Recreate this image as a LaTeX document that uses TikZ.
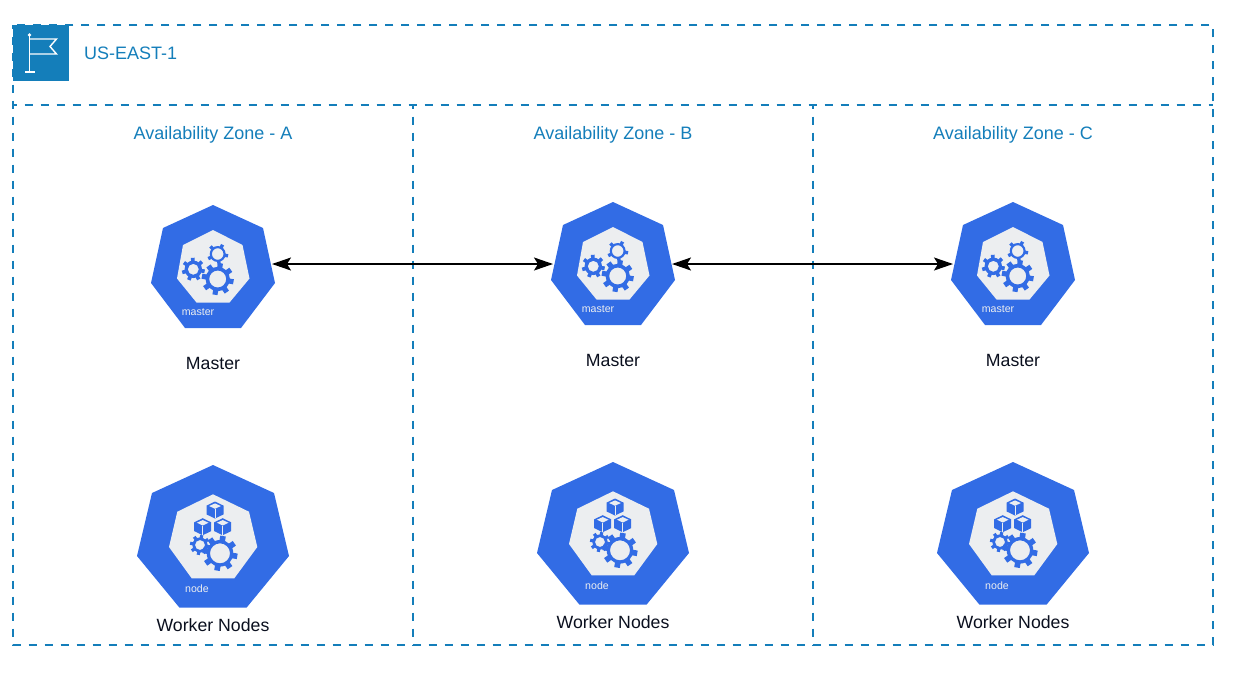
\documentclass[tikz,border=0pt]{standalone}
\usepackage{fontspec}
\setmainfont{Liberation Sans}
\usetikzlibrary{arrows.meta}
\definecolor{awsblue}{HTML}{147EBA}
\definecolor{kubeblue}{HTML}{326CE5}
\definecolor{kubegrey}{HTML}{ECEEF0}
\definecolor{labelink}{HTML}{0A0F1E}
\tikzset{
  zoneline/.style={draw=awsblue, line width=2.2pt, dash pattern=on 8.5pt off 7.5pt, dash phase=4.3pt},
  zonetext/.style={text=awsblue, font=\fontsize{18}{21}\selectfont, inner sep=0pt},
  roletext/.style={text=labelink, font=\fontsize{17.7}{21}\selectfont, inner sep=0pt},
  badgetext/.style={text=kubegrey, font=\fontsize{10.6}{12}\selectfont, inner sep=0pt},
  link/.style={draw=black, line width=1.5pt, {Stealth[length=19pt,width=13pt,inset=4pt]}-{Stealth[length=19pt,width=13pt,inset=4pt]}},
  flagline/.style={draw=white, line width=1.4pt},
  pics/gearwheel/.style n args={3}{code={
    \fill[kubeblue, even odd rule] (0,0) circle ({0.76*#1}) (0,0) circle (#2);
    \foreach \i in {1,...,#3}
      \draw[kubeblue, line width=0.32*#1 pt] ({\i*360/#3+10}:{0.7*#1}) -- ({\i*360/#3+10}:#1);
  }},
  pics/cubebox/.style={code={
    \fill[kubeblue] (0,-8.5) -- (8.5,-4.4) -- (8.5,4.4) -- (0,8.5) -- (-8.5,4.4) -- (-8.5,-4.4) -- cycle;
    \fill[kubegrey] (0,-6.6) -- (5.8,-4) -- (0,-1.2) -- (-5.8,-4) -- cycle;
    \draw[kubegrey, line width=1pt] (0,-1.2) -- (0,8);
  }},
  pics/masterhex/.style={code={
    \fill[kubeblue] (0,-65) -- (50,-42) -- (62,13) -- (28,58) -- (-28,58) -- (-62,13) -- (-50,-42) -- cycle;
    \fill[kubegrey] (0,-40) -- (29.5,-25) -- (36.5,8.5) -- (16.5,32.5) -- (-16.5,32.5) -- (-36,8.5) -- (-30,-25) -- cycle;
    \pic at (4.7,9) {gearwheel={16}{8.5}{8}};
    \pic at (-19.7,-0.7) {gearwheel={11.5}{5.5}{7}};
    \pic at (4.7,-16) {gearwheel={10.5}{5.8}{5}};
    \node[badgetext] at (-15,42) {master};
    \coordinate (-east) at (59,-3);
    \coordinate (-west) at (-60,-3);
  }},
  pics/workerhex/.style={code={
    \fill[kubeblue] (0,-75) -- (61,-47) -- (76,16) -- (33.5,67.7) -- (-33.5,67.7) -- (-76,16) -- (-61,-47) -- cycle;
    \fill[kubegrey] (0,-45.7) -- (36,-28.3) -- (44.3,7) -- (21.3,38.3) -- (-21.3,38.3) -- (-44,7) -- (-35.7,-28.3) -- cycle;
    \pic at (7,13.3) {gearwheel={17.5}{10}{8}};
    \pic at (-13,5) {gearwheel={10}{5}{8}};
    \pic at (2,-30) {cubebox};
    \pic at (-10.3,-13.3) {cubebox};
    \pic at (9.7,-13.3) {cubebox};
    \node[badgetext] at (-16,49) {node};
  }}
}

\begin{document}
\begin{tikzpicture}[x=1pt,y=-1pt]
\useasboundingbox (0,0) rectangle (1246,673);
% region and zones
\draw[zoneline] (13,25) rectangle (1213,645);
\draw[zoneline] (13,105) -- (1213,105);
\draw[zoneline] (413,105) -- (413,645);
\draw[zoneline] (813,105) -- (813,645);

% flag badge
\fill[awsblue] (13,25) rectangle (69,81);
\draw[flagline] (29.5,36) -- (29.5,72);
\draw[flagline] (25,72) -- (35,72);
\draw[flagline] (30,39) -- (56.5,39) -- (50,46.5) -- (56.5,54) -- (30,54);
\fill[white] (29.5,35) circle (1.8);
\node[zonetext, anchor=west] (regionlabel) at (84,53) {US-EAST-1};

% one column per zone
\node[zonetext] (zonelabelA) at (213,135) {Availability Zone - A};
\node[zonetext] (zonelabelB) at (613,135) {Availability Zone - B};
\node[zonetext] (zonelabelC) at (1013,135) {Availability Zone - C};

\pic (masterA) at (213,270) {masterhex};
\pic (masterB) at (613,267) {masterhex};
\pic (masterC) at (1013,267) {masterhex};
\node[roletext] (masterlabelA) at (213,363) {Master};
\node[roletext] (masterlabelB) at (613,360) {Master};
\node[roletext] (masterlabelC) at (1013,360) {Master};

\pic (workerA) at (213,540) {workerhex};
\pic (workerB) at (613,537) {workerhex};
\pic (workerC) at (1013,537) {workerhex};
\node[roletext] (workerlabelA) at (213,625) {Worker Nodes};
\node[roletext] (workerlabelB) at (613,622) {Worker Nodes};
\node[roletext] (workerlabelC) at (1013,622) {Worker Nodes};

% links between masters
\draw[link] (masterA-east |- masterB-west) -- (masterB-west);
\draw[link] (masterB-east) -- (masterC-west);
\end{tikzpicture}
\end{document}
